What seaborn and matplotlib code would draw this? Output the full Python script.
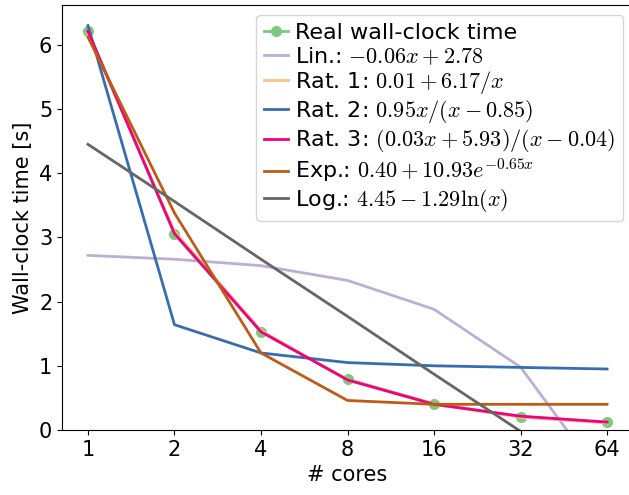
import matplotlib
matplotlib.use("Agg")
import matplotlib.pyplot as plt
import seaborn as sns
import numpy as np

cores = [1, 2, 4, 8, 16, 32, 64]
real_time = [6.22, 3.05, 1.53, 0.79, 0.41, 0.21, 0.12]
lin_fit = [2.72, 2.66, 2.56, 2.33, 1.88, 0.98, -0.85]
rat1_fit = [6.18, 3.09, 1.55, 0.78, 0.40, 0.20, 0.11]
rat2_fit = [6.30, 1.64, 1.20, 1.05, 1.00, 0.975, 0.95]
rat3_fit = [6.21, 3.06, 1.53, 0.78, 0.40, 0.215, 0.123]
exp_fit = [6.12, 3.38, 1.20, 0.46, 0.40, 0.40, 0.40]
log_fit = [4.45, 3.56, 2.66, 1.77, 0.87, -0.02, -0.91]

labels = [
    "Real wall-clock time",
    r"Lin.: $-0.06x+2.78$",
    r"Rat. 1: $0.01+6.17/x$",
    r"Rat. 2: $0.95x/(x-0.85)$",
    r"Rat. 3: $(0.03x+5.93)/(x-0.04)$",
    r"Exp.: $0.40+10.93e^{-0.65x}$",
    r"Log.: $4.45-1.29\ln(x)$",
]
colors = ["#7fc97f", "#beaed4", "#fdc086", "#386cb0", "#f0027f", "#bf5b17", "#666666"]

plt.rcParams["mathtext.fontset"] = "cm"
plt.rcParams["font.family"] = ["DejaVu Sans"]
plt.rcParams["font.size"] = 15

fig = plt.figure(figsize=(6.29, 4.95), dpi=100)
ax = fig.add_axes([62 / 629, 1 - 430 / 495, (633 - 62) / 629, (430 - 5) / 495])

series = [real_time, lin_fit, rat1_fit, rat2_fit, rat3_fit, exp_fit, log_fit]
for i, (ys, lab, col) in enumerate(zip(series, labels, colors)):
    if i == 0:
        sns.lineplot(x=cores, y=ys, ax=ax, color=col, label=lab, marker="o",
                     markersize=8, markeredgewidth=0, linewidth=2)
    else:
        sns.lineplot(x=cores, y=ys, ax=ax, color=col, label=lab, linewidth=2)

ax.set_xscale("log", base=2)
ax.set_xticks(cores)
ax.set_xticklabels([str(c) for c in cores])
ax.minorticks_off()
ax.set_xlim(2 ** -0.3, 2 ** 6.3)
ax.set_ylim(0, 6.62)
ax.set_yticks([0, 1, 2, 3, 4, 5, 6])
ax.tick_params(labelsize=15)
ax.set_xlabel("# cores", fontsize=15)
ax.set_ylabel("Wall-clock time [s]", fontsize=15)

ax.legend(loc="upper right", fontsize=16, handlelength=1.1, handletextpad=0.3,
          labelspacing=0.1, borderpad=0.35, borderaxespad=0.45)

fig.savefig("out.png", dpi=100)
